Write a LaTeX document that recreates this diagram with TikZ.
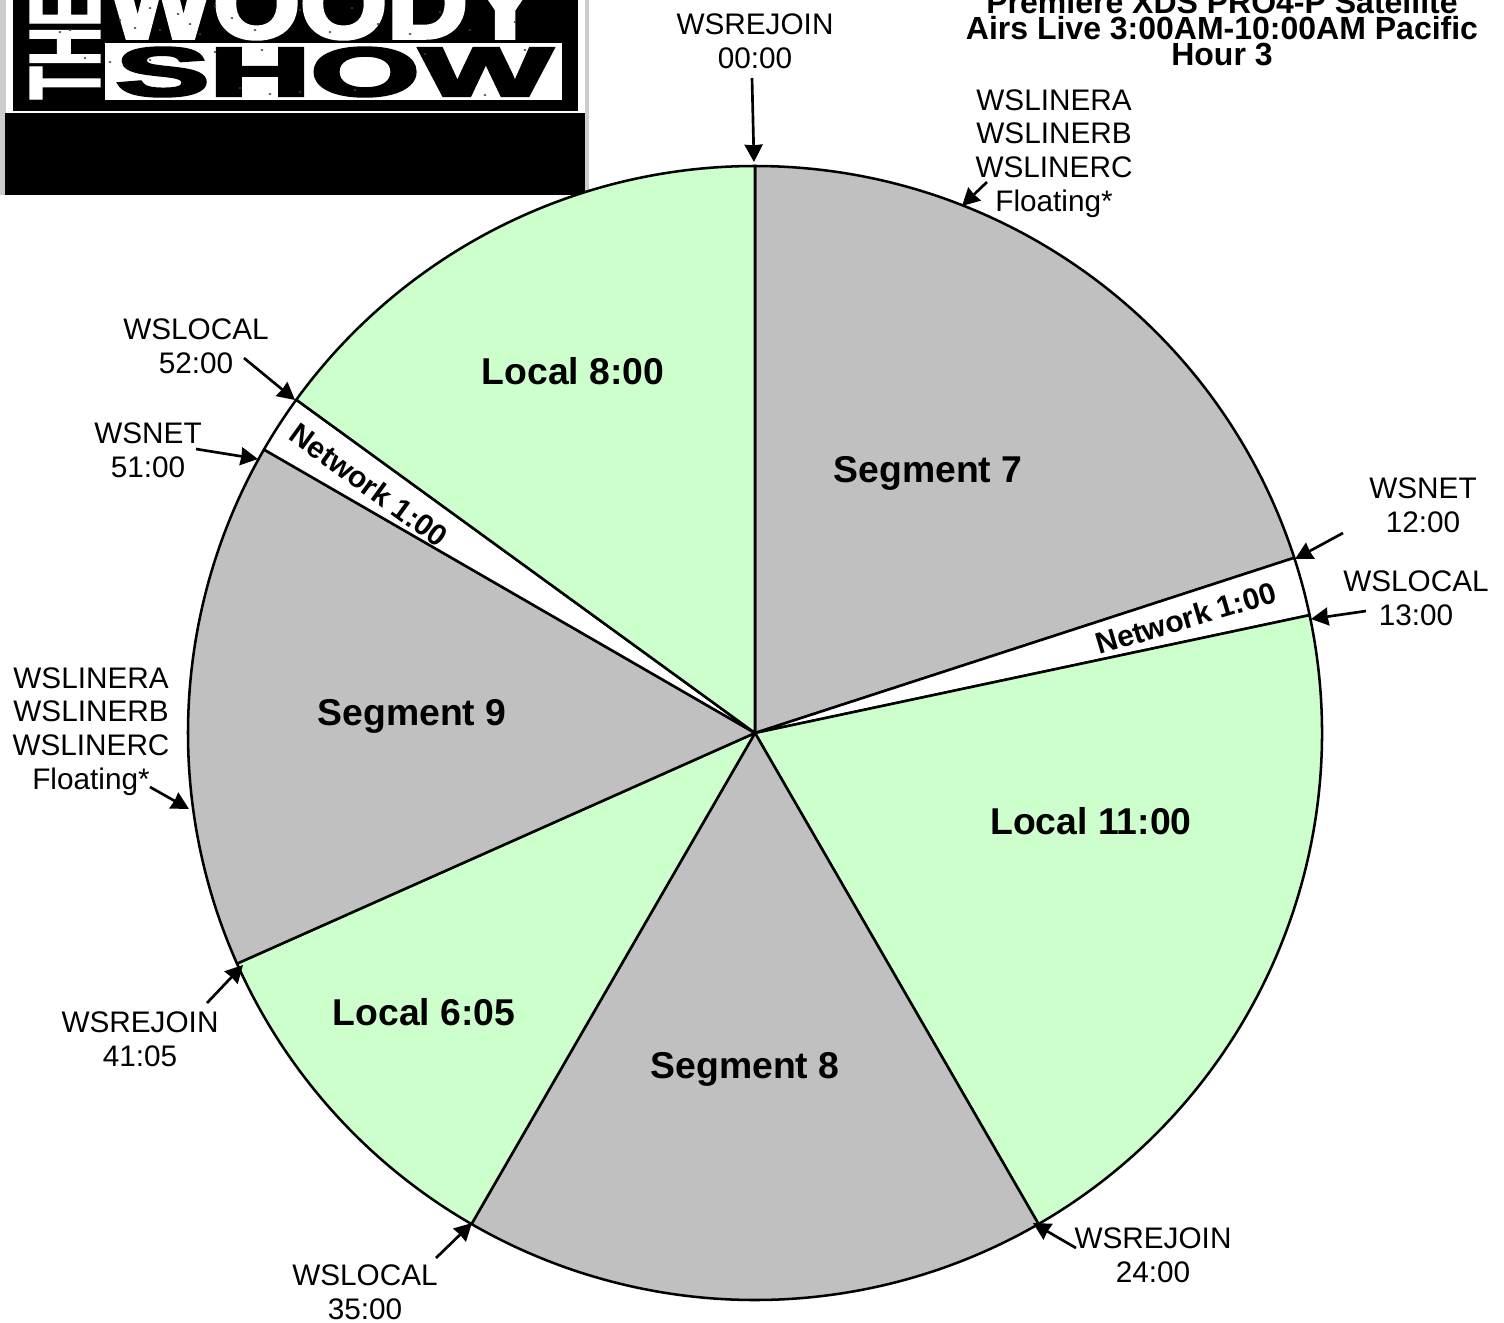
\documentclass[tikz,border=0pt]{standalone}
\usepackage{fontspec}
\usepackage{graphicx}
\setmainfont{Liberation Sans}
\newfontfamily\logofont[FakeBold=4]{Liberation Sans Bold}
\newfontfamily\logothe[FakeBold=2]{Liberation Sans Bold}
\usetikzlibrary{arrows.meta}
\definecolor{localgreen}{HTML}{CCFFCC}
\definecolor{seggray}{HTML}{C0C0C0}
\definecolor{logoedge}{HTML}{CCCCCC}
\tikzset{
  x=0.75pt,y=-0.75pt,
  slice/.style={draw=black,line width=1.9pt,line join=round},
  cue/.style={inner sep=0pt,align=center,font=\fontsize{22.3}{25.4}\selectfont},
  seglabel/.style={inner sep=0pt,font=\fontsize{28}{30}\selectfont\bfseries},
  netlabel/.style={inner sep=0pt,font=\fontsize{22.5}{25}\selectfont\bfseries},
  titletext/.style={inner sep=0pt,align=center,font=\fontsize{24}{19.5}\selectfont\bfseries},
  pointer/.style={draw=black,line width=2pt,-{Stealth[length=13pt,width=13.5pt,inset=0.5pt]}},
  logotext/.style={inner sep=0pt}
}
\newcommand{\slicefill}[3]{%
  \path[slice,fill=#1] (hub) -- ++(90-#2:425.25pt) arc[start angle=90-#2,end angle=90-#3,radius=425.25pt] -- cycle;}
\begin{document}
\begin{tikzpicture}
\useasboundingbox (0,0) rectangle (1504,1322);
% logo
\begin{scope}
\clip (0,0) rectangle (1504,1322);
\fill[logoedge] (0,0) rectangle (589,195);
\fill[white] (6,0) rectangle (585,114);
\fill[black] (13,0) rectangle (578,110.5);
\fill[black] (5,113) rectangle (585,195);
\node[logotext,text=white,anchor=south] (woody) at (325,39) {\resizebox{326pt}{52pt}{\logofont WOODY}};
\fill[white] (105,43) rectangle (562,100);
\node[logotext,text=black] (show) at (334,72) {\resizebox{327pt}{36pt}{\logofont SHOW}};
\node[logotext,text=white,rotate=90] (the) at (65,45) {\resizebox{82pt}{52pt}{\logothe THE}};
\foreach \dx/\dy in {120/20,135/28,150/8,160/30,178/14,190/24,200/34,215/6,232/18,255/30,300/10,330/32,352/8,378/24,410/34,440/12,470/30,515/22,150/60,215/52,240/88,262/50,270/94,300/92,355/90,425/54,485/95,525/50,60/32,70/30,85/58,110/62}{
  \fill[black!75] (\dx,\dy) ellipse[x radius=1.5,y radius=1];
}
\end{scope}
% title
\node[titletext] (title) at (1222,28) {Premiere XDS PRO4-P Satellite\\Airs Live 3:00AM-10:00AM Pacific\\Hour 3};
% pie
\coordinate (hub) at (755,733);
\slicefill{seggray}{0}{72}
\slicefill{white}{72}{78}
\slicefill{localgreen}{78}{150}
\slicefill{seggray}{150}{210}
\slicefill{localgreen}{210}{246}
\slicefill{seggray}{246}{300}
\slicefill{white}{300}{306}
\slicefill{localgreen}{306}{360}
% segment labels
\node[seglabel] (l8) at (573,371) {Local 8:00};
\node[seglabel] (s7) at (928,473) {Segment 7};
\node[seglabel] (s9) at (412,716) {Segment 9};
\node[seglabel] (l11) at (1091,821) {Local 11:00};
\node[seglabel] (l6) at (424,1012) {Local 6:05};
\node[seglabel] (s8) at (745,1069) {Segment 8};
\node[netlabel,rotate=16.6] (n1) at (1186,618) {Network 1:00};
\node[netlabel,rotate=-36] (n2) at (369,485) {Network 1:00};
% cue labels
\node[cue] (c00) at (755,41) {WSREJOIN\\00:00};
\node[cue] (la) at (1054,153.5) {WSLINERA\\WSLINERB\\WSLINERC\\Floating*};
\node[cue] (c12) at (1423,505) {WSNET\\12:00};
\node[cue] (c13) at (1416,598) {WSLOCAL\\13:00};
\node[cue] (c24) at (1153,1255) {WSREJOIN\\24:00};
\node[cue] (c35) at (365,1292) {WSLOCAL\\35:00};
\node[cue] (c41) at (140,1039) {WSREJOIN\\41:05};
\node[cue] (lb) at (91,731.5) {WSLINERA\\WSLINERB\\WSLINERC\\Floating*};
\node[cue] (c51) at (148,450) {WSNET\\51:00};
\node[cue] (c52) at (196,346) {WSLOCAL\\52:00};
% pointer ends
\coordinate (a00s) at (752,78);   \coordinate (a00e) at (754,162);
\coordinate (alas) at (987,182);  \coordinate (alae) at (962,206);
\coordinate (a12s) at (1343,533); \coordinate (a12e) at (1295,559);
\coordinate (a13s) at (1366,611); \coordinate (a13e) at (1311,619);
\coordinate (a24s) at (1076,1248);\coordinate (a24e) at (1033,1223);
\coordinate (a35s) at (436,1258); \coordinate (a35e) at (472,1223);
\coordinate (a41s) at (207,1003); \coordinate (a41e) at (243,965);
\coordinate (albs) at (150,787);  \coordinate (albe) at (189,809);
\coordinate (a51s) at (196,449);  \coordinate (a51e) at (258,459);
\coordinate (a52s) at (244,358);  \coordinate (a52e) at (295,400);
\foreach \p in {00,la,12,13,24,35,41,lb,51,52}{
  \draw[pointer] (a\p s) -- (a\p e);
}
\end{tikzpicture}
\end{document}
